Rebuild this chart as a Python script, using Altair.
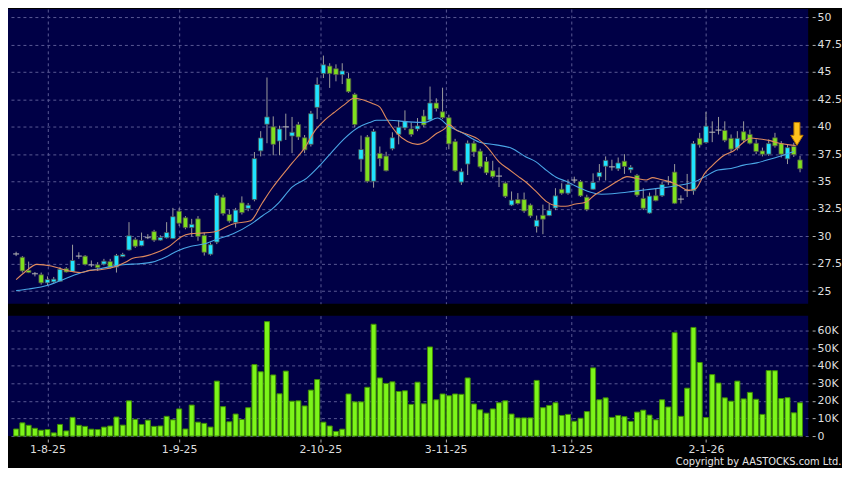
import altair as alt
import pandas as pd

# ---------------- data ----------------
opens = [28.4, 28.1, 26.9, 26.6, 26.5, 25.76, 25.85, 25.9, 27.05, 26.8,
         28.2, 28.2, 27.4, 27.4, 27.47, 27.7, 27.2, 28.16, 28.76, 29.7,
         29.15, 29.9, 30.44, 29.66, 29.87, 29.8, 32.3, 31.7, 30.8, 31.6,
         30.1, 28.37, 29.48, 33.57, 32.0, 31.27, 33.06, 32.56, 33.36, 37.8,
         40.23, 40.0, 38.7, 40.0, 39.16, 40.2, 39.0, 38.4, 41.77, 44.85,
         45.54, 45.3, 44.76, 44.4, 42.96, 37.04, 39.07, 35.03, 37.57, 37.33,
         38.0, 39.31, 39.9, 39.8, 39.8, 40.98, 40.62, 42.17, 41.37, 40.83,
         38.65, 34.95, 36.6, 38.5, 37.78, 36.83, 35.99, 35.5, 34.86, 32.86,
         33.36, 33.36, 32.86, 30.91, 31.93, 31.9, 32.59, 34.3, 33.94, 35.14,
         35.0, 33.58, 34.3, 35.44, 36.4, 36.35, 36.17, 36.86, 36.08, 35.57,
         33.47, 32.13, 33.71, 33.71, 35.0, 35.87, 33.4, 34.2, 34.16, 38.95,
         38.56, 39.5, 39.7, 39.67, 38.95, 38.05, 39.55, 39.31, 38.5, 37.8,
         37.5, 39.0, 38.47, 37.07, 38.2, 36.98]
highs = [28.6, 28.2, 27.7, 26.75, 26.7, 26.35, 26.3, 27.2, 27.2, 29.24,
         28.55, 28.3, 27.8, 27.65, 27.95, 27.95, 28.4, 28.5, 31.3, 29.9,
         30.35, 30.2, 30.6, 30.1, 31.3, 32.6, 32.6, 31.85, 31.6, 31.85,
         30.35, 29.45, 33.95, 33.8, 32.45, 32.6, 33.65, 33.05, 37.7, 39.6,
         44.5, 40.95, 40.1, 41.2, 40.9, 40.45, 39.25, 41.45, 44.5, 46.5,
         45.8, 45.7, 45.8, 44.9, 43.1, 39.2, 39.25, 39.8, 38.2, 37.72,
         39.5, 40.6, 41.5, 40.4, 40.8, 41.55, 43.67, 42.6, 43.57, 41.1,
         38.9, 36.2, 38.75, 38.75, 38.0, 37.25, 36.9, 36.3, 35.0, 34.1,
         33.95, 34.0, 33.0, 31.9, 32.9, 33.0, 34.4, 34.85, 35.2, 35.45,
         35.15, 33.8, 35.75, 36.6, 37.3, 37.0, 37.2, 37.5, 36.5, 35.7,
         34.4, 34.0, 34.4, 35.0, 35.5, 36.6, 33.75, 35.7, 38.7, 39.45,
         41.35, 40.5, 40.9, 40.5, 39.3, 39.6, 40.5, 39.75, 38.85, 38.1,
         38.85, 39.45, 38.7, 38.4, 38.55, 37.35]
lows = [28.2, 26.7, 26.65, 26.35, 25.6, 25.55, 25.7, 25.85, 26.7, 26.75,
        27.95, 27.35, 27.2, 26.85, 27.35, 27.05, 26.7, 28.1, 28.7, 28.95,
        29.1, 29.75, 29.5, 29.6, 29.8, 29.75, 30.95, 30.65, 30.0, 29.6,
        28.25, 28.25, 29.3, 31.9, 31.25, 30.8, 32.0, 32.3, 33.2, 37.3,
        38.5, 37.4, 37.4, 38.8, 37.6, 38.8, 37.6, 38.2, 40.7, 44.45,
        43.55, 44.15, 43.9, 43.1, 39.95, 35.9, 34.9, 34.45, 36.4, 35.93,
        37.85, 38.4, 39.7, 39.1, 39.6, 39.95, 40.5, 41.4, 40.7, 37.95,
        35.9, 34.7, 35.6, 37.25, 36.2, 35.6, 35.3, 34.5, 33.5, 32.77,
        32.9, 32.15, 31.7, 30.35, 30.2, 31.85, 32.4, 33.8, 33.8, 34.85,
        33.6, 32.3, 34.25, 35.1, 35.1, 36.0, 35.97, 35.7, 35.8, 33.6,
        32.4, 32.07, 33.2, 33.6, 34.7, 32.95, 33.0, 33.6, 33.8, 38.1,
        38.5, 38.6, 39.3, 38.6, 37.7, 37.85, 38.6, 38.4, 37.5, 37.3,
        37.35, 38.1, 37.2, 36.6, 37.25, 35.85]
closes = [28.4, 26.85, 26.7, 26.6, 25.76, 26.06, 26.1, 27.0, 26.75, 27.8,
          28.2, 27.44, 27.4, 27.14, 27.74, 27.14, 28.25, 28.34, 30.06, 29.1,
          29.63, 29.9, 29.66, 29.9, 30.35, 31.8, 31.2, 30.8, 31.1, 30.0,
          28.55, 29.24, 33.75, 32.08, 31.4, 32.4, 32.17, 32.85, 37.1, 38.98,
          40.9, 38.4, 39.8, 40.0, 39.5, 39.07, 37.9, 41.2, 43.86, 45.66,
          44.85, 44.76, 45.1, 43.2, 40.2, 37.93, 35.03, 39.58, 37.1, 35.99,
          39.0, 39.97, 40.5, 39.3, 40.08, 40.17, 42.17, 41.67, 40.83, 38.44,
          35.99, 35.9, 38.5, 37.7, 36.35, 35.8, 35.45, 35.5, 33.66, 33.3,
          33.0, 32.32, 31.87, 31.48, 31.57, 32.38, 33.7, 33.94, 34.75, 35.14,
          33.7, 32.44, 34.93, 35.83, 36.94, 36.35, 36.7, 36.38, 36.3, 33.77,
          32.57, 33.68, 33.26, 34.73, 35.0, 33.02, 33.4, 34.2, 38.47, 38.35,
          40.06, 39.5, 39.7, 38.77, 37.96, 38.95, 38.77, 38.5, 37.75, 37.5,
          38.47, 38.26, 37.5, 38.1, 37.45, 36.17]
volumes_k = [4.0, 7.5, 6.1, 4.4, 3.3, 3.7, 1.8, 6.6, 2.9, 10.6,
             6.1, 5.5, 3.9, 3.7, 5.1, 5.7, 10.8, 6.2, 20.0, 9.5,
             6.6, 9.0, 5.5, 5.7, 11.2, 9.2, 15.4, 4.0, 17.6, 7.9,
             7.2, 5.1, 31.2, 16.7, 8.1, 12.5, 9.4, 16.1, 40.6, 36.5,
             65.0, 34.7, 24.0, 36.9, 19.8, 20.0, 17.1, 26.1, 32.1, 7.9,
             5.7, 2.6, 3.9, 23.9, 19.4, 19.4, 27.7, 63.5, 33.0, 29.9,
             30.8, 25.3, 25.7, 18.0, 30.6, 18.3, 50.6, 20.6, 23.9, 22.9,
             23.9, 23.7, 33.0, 18.2, 14.9, 13.0, 15.4, 18.9, 20.0, 12.5,
             10.3, 10.3, 10.3, 31.6, 16.1, 17.4, 18.9, 11.7, 12.3, 8.4,
             10.1, 13.9, 38.7, 20.6, 21.7, 10.6, 11.7, 11.0, 8.3, 13.6,
             14.7, 11.9, 9.2, 20.6, 16.5, 58.7, 11.2, 27.2, 61.7, 41.8,
             10.5, 34.9, 30.1, 21.7, 19.8, 31.2, 21.1, 24.8, 20.9, 12.3,
             37.2, 37.1, 21.3, 21.8, 13.2, 18.9]

ma_short_idx = [0, 1.5, 3.3, 5.6, 7.4, 9.2, 10.3, 11.8, 13.4, 16.0, 17.5, 18.6, 20.6, 22.7,
                24.3, 25.3, 26.3, 27.9, 29.5, 31.5, 34.6, 37.4, 39.2, 40.7, 41.9, 44.0,
                46.1, 47.6, 49.2, 50.7, 52.3, 53.9, 55.4, 56.9, 58.0, 59.0, 60.6, 62.4,
                64.0, 65.5, 66.8, 68.4, 69.0, 70.3, 71.8, 73.6, 75.2, 77.0, 78.6, 80.0,
                81.5, 82.9, 84.5, 86.1, 87.6, 89.2, 90.8, 92.3, 94.4, 96.0, 97.4, 98.9,
                100.5, 101.5, 102.5, 104.1, 105.7, 107.2, 108.3, 109.8, 110.8, 112.9,
                114.5, 116.0, 117.1, 118.6, 120.2, 121.7, 123.3, 124.3]
ma_short_val = [26.05, 26.8, 27.45, 27.3, 27.0, 26.76, 26.7, 26.9, 26.96, 27.27, 27.66, 28.0,
                28.2, 28.6, 29.05, 29.5, 29.95, 30.25, 30.3, 30.4, 31.14, 31.43, 33.0, 34.3,
                35.2, 36.68, 38.15, 39.6, 40.6, 41.3, 42.0, 42.6, 42.45, 42.1, 41.8, 40.8,
                39.5, 38.65, 38.4, 38.7, 39.3, 39.85, 40.2, 39.65, 39.35, 38.9, 38.1, 36.8,
                36.1, 35.5, 34.85, 34.1, 33.2, 32.8, 32.75, 32.95, 33.12, 33.8, 34.5, 35.07,
                35.45, 35.3, 35.15, 35.36, 35.24, 35.0, 34.62, 34.2, 34.32, 35.75, 36.35,
                37.4, 37.84, 38.59, 38.98, 38.89, 38.74, 38.5, 38.35, 38.29]
ma_long_idx = [0, 2.0, 5.1, 7.2, 9.2, 11.3, 13.4, 16.0, 17.5, 19.6, 21.7, 23.8, 25.8, 27.9,
               29.9, 31.8, 34.6, 37.5, 39.3, 40.8, 41.9, 44.0, 46.3, 48.3, 50.2, 52.3, 54.3,
               56.4, 57.5, 59.5, 62.6, 65.2, 67.2, 68.9, 71.0, 73.9, 76.5, 79.0, 81.3, 82.9,
               84.2, 86.1, 87.8, 89.2, 91.5, 93.3, 95.8, 98.4, 100.5, 103.6, 106.2, 108.3,
               109.8, 111.9, 114.0, 116.0, 118.1, 120.2, 122.3, 124.0]
ma_long_val = [25.05, 25.2, 25.55, 26.0, 26.45, 26.84, 27.05, 27.35, 27.44, 27.5, 27.65, 28.1,
               28.7, 29.1, 29.3, 29.7, 30.24, 31.14, 31.89, 32.49, 33.08, 34.5, 35.3, 36.4,
               37.6, 38.9, 39.85, 40.4, 40.6, 40.6, 40.45, 40.4, 40.8, 40.1, 39.5, 38.6,
               38.35, 38.05, 37.25, 36.8, 36.2, 35.4, 35.0, 34.6, 34.05, 33.85, 33.93, 34.11,
               34.26, 34.47, 34.71, 35.0, 35.45, 36.05, 36.2, 36.5, 36.71, 37.04, 37.4, 37.75]

tick_idx = [5, 26, 48.5, 68.5, 88.5, 110]
tick_labels = ["1-8-25", "1-9-25", "2-10-25", "3-11-25", "1-12-25", "2-1-26"]
price_ticks = [25, 27.5, 30, 32.5, 35, 37.5, 40, 42.5, 45, 47.5, 50]
vol_ticks = [0, 10, 20, 30, 40, 50, 60]
arrow_idx = [124.5]
arrow_price = [39.35]

# ---------------- tables ----------------
n = len(closes)
df = pd.DataFrame({"i": list(range(n)), "open": opens, "high": highs,
                   "low": lows, "close": closes, "vol": volumes_k})
df["dir"] = ["up" if c > o else ("down" if c < o else "flat") for o, c in zip(opens, closes)]
df["lo"] = [min(o, c) for o, c in zip(opens, closes)]
df["hi"] = [max(o, c) for o, c in zip(opens, closes)]
ma_s = pd.DataFrame({"i": ma_short_idx, "v": ma_short_val})
ma_l = pd.DataFrame({"i": ma_long_idx, "v": ma_long_val})
arrow_df = pd.DataFrame({"i": arrow_idx, "v": arrow_price})

W, H1, H2 = 804, 296, 121
CYAN, GREEN, VOLG = "#1fe4ff", "#7fe01e", "#7cf51a"
FONT = "DejaVu Sans"

label_expr = " : ".join(
    f"datum.value == {v} ? '{t}'" for v, t in zip(tick_idx, tick_labels)) + " : ''"

xs = alt.Scale(domain=[-0.5, n - 0.5], nice=False, zero=False)
ps = alt.Scale(domain=[23.86, 50.74], nice=False, zero=False)
vs = alt.Scale(domain=[0, 68.4], nice=False, zero=False)

top_xaxis = alt.Axis(values=tick_idx, labels=False, ticks=False, domain=False,
                     grid=True, title=None)
price_axis = alt.Axis(orient="right", values=price_ticks, labelExpr="toString(datum.value)",
                      title=None, grid=True, domain=False, tickSize=3, offset=4,
                      labelPadding=2)

X = alt.X("i:Q", scale=xs, axis=top_xaxis)

base = alt.Chart(df)
wicks = base.mark_rule(color="#9c9c9c", strokeWidth=1).encode(
    x=X, y=alt.Y("low:Q", scale=ps, axis=price_axis), y2="high:Q")
bodies = base.transform_filter("datum.dir != 'flat'").mark_bar(
    size=4.6, stroke="#4d4d4d", strokeWidth=0.8).encode(
    x=X, y=alt.Y("lo:Q", scale=ps, axis=price_axis), y2="hi:Q",
    color=alt.Color("dir:N", scale=alt.Scale(domain=["up", "down"], range=[CYAN, GREEN]),
                    legend=None))
dojis = base.transform_filter("datum.dir == 'flat'").mark_tick(
    orient="horizontal", size=6, thickness=1.5, color="#b8b8b8").encode(
    x=X, y=alt.Y("close:Q", scale=ps, axis=price_axis))
line_l = alt.Chart(ma_l).mark_line(color="#4aa6e6", strokeWidth=1.1, interpolate="monotone").encode(
    x=X, y=alt.Y("v:Q", scale=ps, axis=price_axis))
line_s = alt.Chart(ma_s).mark_line(color="#e08a5e", strokeWidth=1.1, interpolate="monotone").encode(
    x=X, y=alt.Y("v:Q", scale=ps, axis=price_axis))
arrow_path = "M-0.26,-1 L0.26,-1 L0.26,0.12 L0.54,0.12 L0,1 L-0.54,0.12 L-0.26,0.12 Z"
arrow = alt.Chart(arrow_df).mark_point(
    shape=arrow_path, filled=True, fill="#ffc21c", stroke="#b87800", strokeWidth=1,
    size=530, opacity=1).encode(x=X, y=alt.Y("v:Q", scale=ps, axis=price_axis))

price = alt.layer(wicks, bodies, dojis, line_l, line_s, arrow).properties(width=W, height=H1)

vol = alt.Chart(df).mark_bar(size=5, color=VOLG, stroke="#3f8c05", strokeWidth=1).encode(
    x=alt.X("i:Q", scale=xs,
            axis=alt.Axis(values=tick_idx, labelExpr=label_expr, grid=True, domain=False,
                          tickSize=3, offset=3, labelPadding=2, title=None)),
    y=alt.Y("vol:Q", scale=vs,
            axis=alt.Axis(orient="right", values=vol_ticks,
                          labelExpr="datum.value == 0 ? '0' : datum.value + 'K'",
                          title=None, grid=True, domain=False, tickSize=3, offset=4,
                          labelPadding=2)),
    y2=alt.datum(0),
).properties(width=W, height=H2)

chart = alt.vconcat(price, vol, spacing=12).properties(
    background="#000000",
    padding=0,
    title=alt.TitleParams("Copyright by AASTOCKS.com Ltd.", orient="bottom", anchor="end",
                          frame="bounds", fontSize=11, fontWeight="normal",
                          font="'DejaVu Sans Condensed', 'Liberation Sans Narrow', 'Liberation Sans', sans-serif",
                          color="#e6e6e6", offset=1),
).configure_view(stroke=None, fill="#000046").configure_axis(
    labelFont=FONT, labelFontSize=11, labelColor="#dedede", tickColor="#b0b0b0",
    gridColor="#5a5a94", gridDash=[3, 3], gridWidth=1, gridOpacity=1,
)

chart.save("out.html", embed_options={"renderer": "svg", "actions": False})
